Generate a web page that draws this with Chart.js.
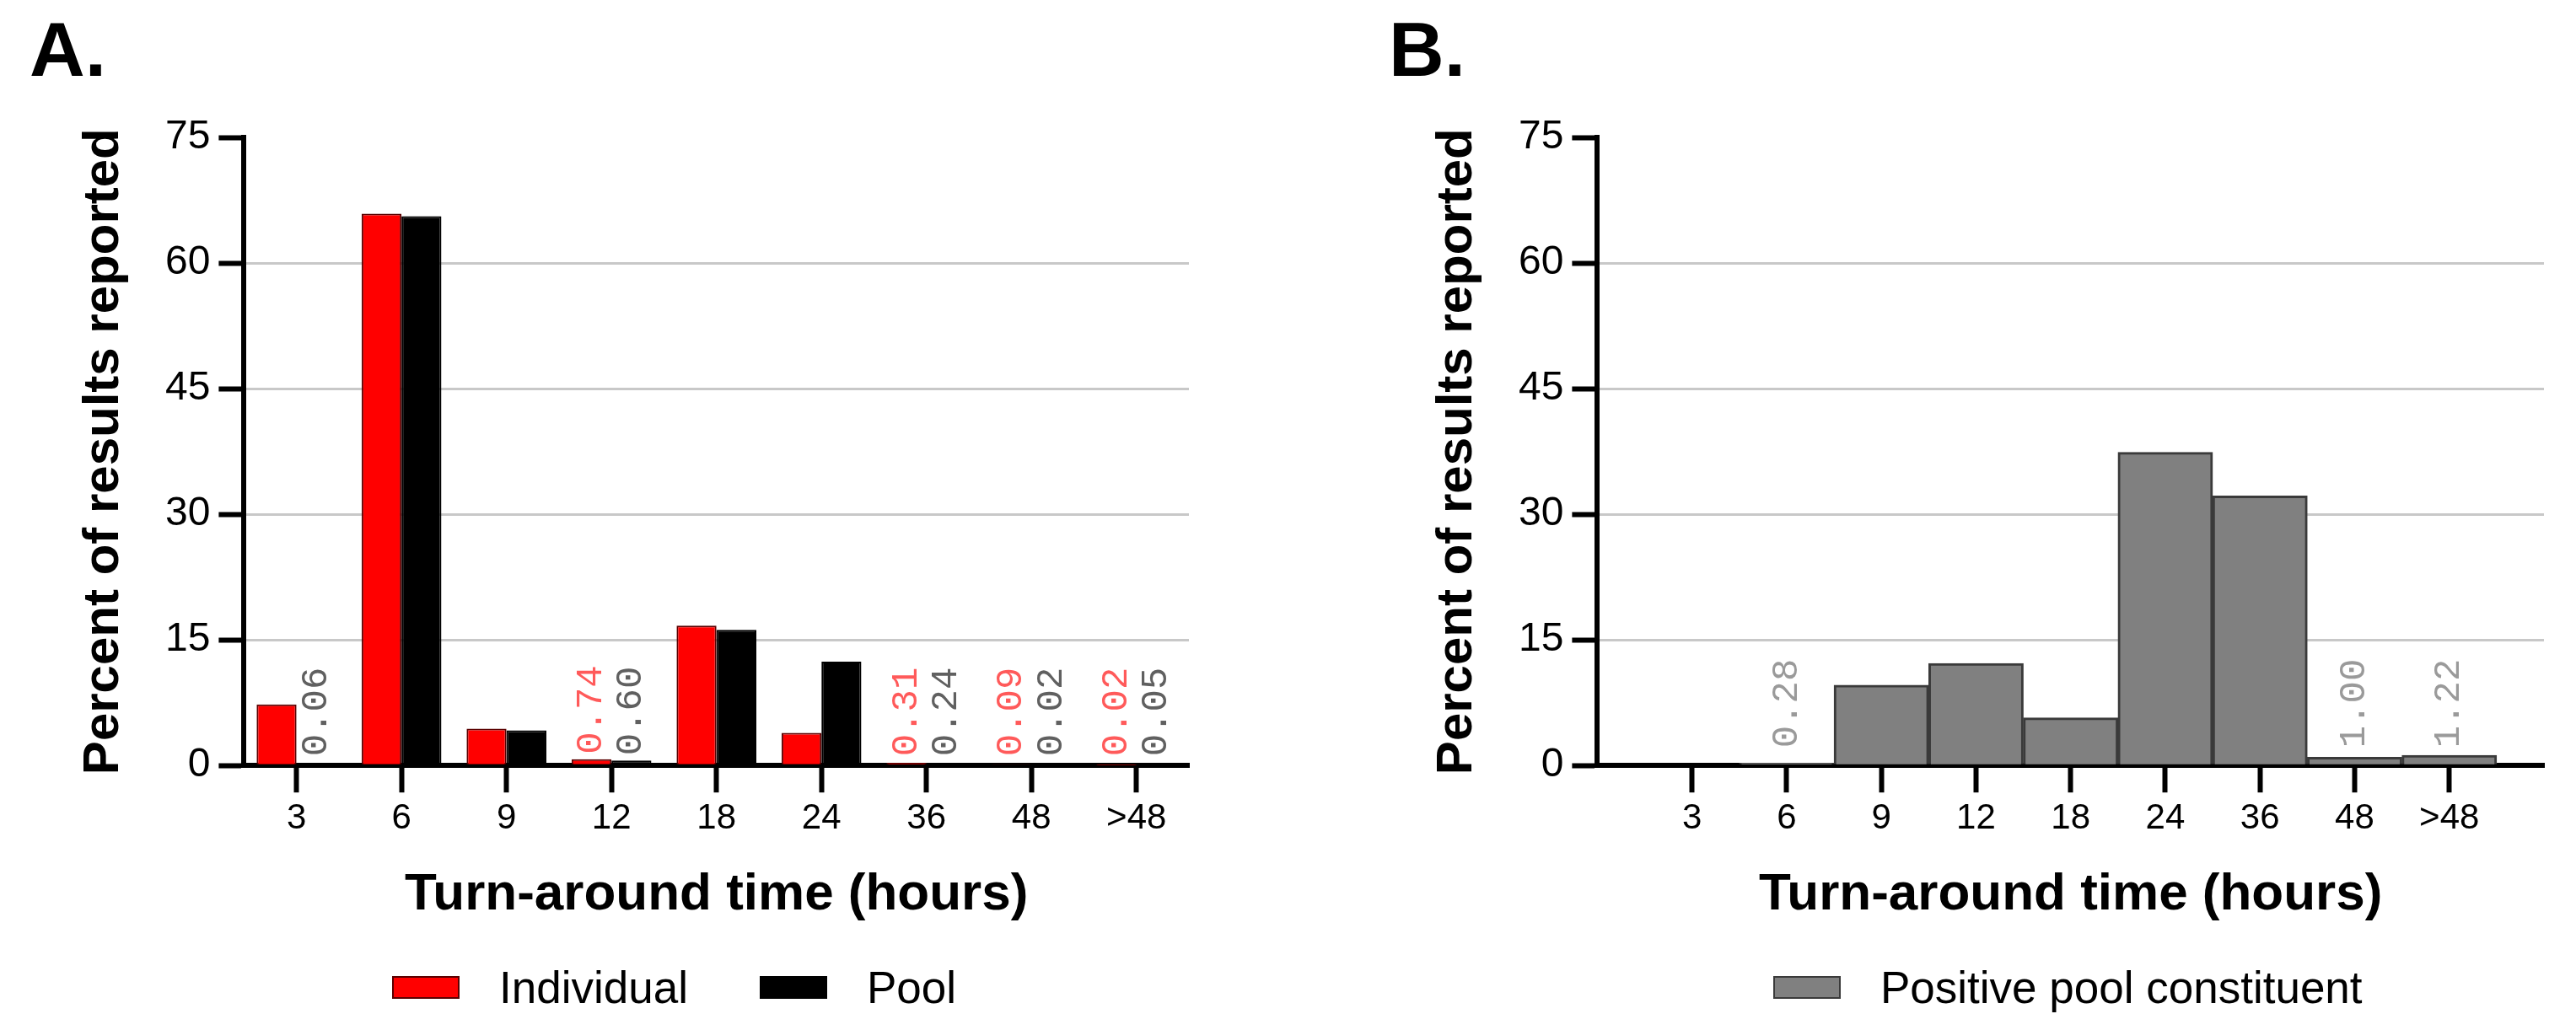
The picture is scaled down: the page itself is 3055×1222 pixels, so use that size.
<!DOCTYPE html>
<html>
<head>
<meta charset="utf-8">
<title>Turn-around time</title>
<script src="https://cdn.jsdelivr.net/npm/chart.js"></script>
<style>
  html, body { margin: 0; padding: 0; background: #fff; }
  body { width: 3055px; height: 1222px; position: relative; overflow: hidden; font-family: 'Liberation Sans', Arial, sans-serif; }
  .painel { position: absolute; top: 0; height: 1222px; }
  #painelA { left: 0; width: 1605px; }
  #painelB { left: 1605px; width: 1450px; }
  .legenda { position: absolute; top: 1145px; height: 53px; display: flex; align-items: center; font-size: 53px; line-height: 53px; color: #000; white-space: nowrap; }
  .legenda .item { display: flex; align-items: center; }
  .legenda .item + .item { margin-left: 85px; }
  .legenda .caixa { display: inline-block; width: 80px; height: 27px; box-sizing: border-box; border: 2px solid #000; }
  .legenda .texto { margin-left: 47px; }
  #legendaA { left: 465px; }
  #legendaB { left: 2103px; }
</style>
</head>
<body>
<div class="painel" id="painelA"><canvas id="graficoA"></canvas></div>
<div class="painel" id="painelB"><canvas id="graficoB"></canvas></div>
<div class="legenda" id="legendaA"></div>
<div class="legenda" id="legendaB"></div>
<script>
// Categorias do eixo x (horas)
const categorias = ['3', '6', '9', '12', '18', '24', '36', '48', '>48'];

// Painel A: percentual de resultados por tipo de amostra
const individual = [7.3, 65.9, 4.4, 0.74, 16.7, 3.9, 0.31, 0.09, 0.02];
const pool = [0.06, 65.6, 4.2, 0.60, 16.2, 12.4, 0.24, 0.02, 0.05];

// Painel B: constituinte positivo do pool
const positivo = [0, 0.28, 9.6, 12.2, 5.7, 37.4, 32.2, 1.00, 1.22];

// Marcas do eixo y
const ticksY = [0, 15, 30, 45, 60, 75];

const FONTE = "'Liberation Sans', Arial, sans-serif";
const TRANSPARENTE = 'rgba(0,0,0,0)';
Chart.defaults.font.family = FONTE;
Chart.defaults.color = '#000';

// Plugin que escreve os valores pequenos na vertical acima das barras
const rotulosPequenos = {
    id: 'rotulosPequenos',
    afterDatasetsDraw(chart, args, opts) {
        const ctx = chart.ctx;
        const base = chart.scales.y.getPixelForValue(0);
        chart.data.datasets.forEach((ds, d) => {
            const meta = chart.getDatasetMeta(d);
            ds.data.forEach((v, i) => {
                if (v === null || v <= 0 || v >= 2) return;
                const barra = meta.data[i];
                const y = Math.min(barra.y - opts.gap, base - opts.offset);
                ctx.save();
                ctx.translate(barra.x, y);
                ctx.rotate(-Math.PI / 2);
                ctx.font = '44px "Liberation Mono", "Courier New", monospace';
                ctx.fillStyle = ds.labelColor;
                ctx.textAlign = 'left';
                ctx.textBaseline = 'middle';
                ctx.fillText(v.toFixed(2), 0, 0);
                ctx.restore();
            });
        });
    }
};

// Opções comuns aos dois painéis
function opcoesBase(letra, padEsq, padDir, labels, offsetX, rotulos) {
    return {
        responsive: true,
        maintainAspectRatio: false,
        animation: false,
        layout: { padding: { left: padEsq, right: padDir, top: 0, bottom: 123 } },
        plugins: {
            legend: { display: false },
            tooltip: { enabled: false },
            title: {
                display: true,
                text: letra,
                align: 'start',
                color: '#000',
                font: { size: 91, weight: 'bold' },
                padding: { top: 10, bottom: 44 }
            },
            rotulosPequenos: rotulos
        },
        scales: {
            x: {
                offset: offsetX,
                z: 1,
                border: { display: true, color: '#000', width: 6 },
                grid: {
                    offset: false,
                    drawOnChartArea: false,
                    drawTicks: true,
                    tickLength: 32,
                    tickWidth: 6,
                    tickColor: (c) => labels[c.index] === '' ? TRANSPARENTE : '#000'
                },
                ticks: {
                    autoSkip: false,
                    maxRotation: 0,
                    padding: 6,
                    color: '#000',
                    font: { size: 42 }
                },
                title: {
                    display: true,
                    text: 'Turn-around time (hours)',
                    color: '#000',
                    font: { size: 62, weight: 'bold' },
                    padding: { top: 22, bottom: 0 }
                }
            },
            y: {
                min: ticksY[0],
                max: ticksY[ticksY.length - 1],
                border: { display: true, color: '#000', width: 6 },
                grid: {
                    color: (c) => (c.tick.value === ticksY[0] || c.tick.value === ticksY[ticksY.length - 1]) ? TRANSPARENTE : '#c8c8c8',
                    lineWidth: 3,
                    drawTicks: true,
                    tickLength: 30,
                    tickWidth: 6,
                    tickColor: '#000'
                },
                ticks: {
                    stepSize: ticksY[1] - ticksY[0],
                    padding: 10,
                    color: '#000',
                    font: { size: 48 }
                },
                title: {
                    display: true,
                    text: 'Percent of results reported',
                    color: '#000',
                    font: { size: 60, weight: 'bold' },
                    padding: { top: 87 - padEsq, bottom: 27 }
                }
            }
        }
    };
}

// Legenda em HTML a partir dos datasets
function montarLegenda(grafico, idDiv) {
    const div = document.getElementById(idDiv);
    div.innerHTML = '';
    grafico.data.datasets.forEach(ds => {
        const item = document.createElement('div');
        item.className = 'item';
        const caixa = document.createElement('span');
        caixa.className = 'caixa';
        caixa.style.background = ds.backgroundColor;
        caixa.style.borderColor = ds.borderColor;
        const texto = document.createElement('span');
        texto.className = 'texto';
        texto.textContent = ds.label;
        item.appendChild(caixa);
        item.appendChild(texto);
        div.appendChild(item);
    });
}

// Painel A
const labelsA = categorias.slice();
const graficoA = new Chart(document.getElementById('graficoA'), {
    type: 'bar',
    data: {
        labels: labelsA,
        datasets: [
            {
                label: 'Individual',
                data: individual,
                backgroundColor: '#ff0000',
                borderColor: '#5a0000',
                borderWidth: 2,
                labelColor: '#ff5a5a',
                categoryPercentage: 0.76,
                barPercentage: 1.0
            },
            {
                label: 'Pool',
                data: pool,
                backgroundColor: '#000000',
                borderColor: '#000000',
                borderWidth: 2,
                labelColor: '#606060',
                categoryPercentage: 0.76,
                barPercentage: 1.0
            }
        ]
    },
    options: opcoesBase('A.', 35, 195, labelsA, true, { gap: 6, offset: 11 }),
    plugins: [rotulosPequenos]
});

// Painel B: uma categoria vazia em cada ponta para dar a margem do eixo
const labelsB = [''].concat(categorias, ['']);
const graficoB = new Chart(document.getElementById('graficoB'), {
    type: 'bar',
    data: {
        labels: labelsB,
        datasets: [
            {
                label: 'Positive pool constituent',
                data: [null].concat(positivo, [null]),
                backgroundColor: '#808080',
                borderColor: '#3a3a3a',
                borderWidth: 3,
                labelColor: '#9a9a9a',
                categoryPercentage: 1.0,
                barPercentage: 1.0
            }
        ]
    },
    options: opcoesBase('B.', 42, 38, labelsB, false, { gap: 8, offset: 21 }),
    plugins: [rotulosPequenos]
});

montarLegenda(graficoA, 'legendaA');
montarLegenda(graficoB, 'legendaB');
</script>
</body>
</html>
